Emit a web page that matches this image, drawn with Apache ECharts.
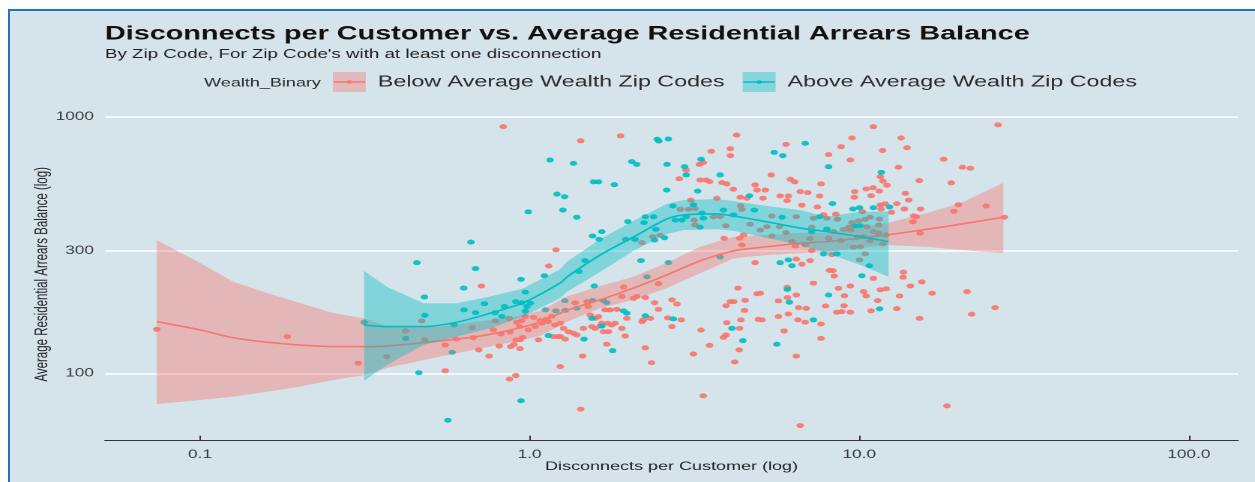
<!DOCTYPE html>
<html>
<head>
<meta charset="utf-8">
<script src="https://cdn.jsdelivr.net/npm/echarts@6/dist/echarts.min.js"></script>
<style>
html,body{margin:0;padding:0;background:#ffffff;width:1255px;height:482px;overflow:hidden;}
#frame{position:absolute;left:8px;top:9px;width:1247px;height:473px;box-sizing:border-box;border-left:2px solid #1b74c8;border-top:2px solid #1b74c8;background:#d5e3ea;}
#chart{position:absolute;left:0;top:0;width:837px;height:482px;transform:scaleX(1.4994);transform-origin:0 0;}
</style>
</head>
<body>
<div id="frame"></div>
<div id="chart"></div>
<script>
// ---------- DATA (log10 of Disconnects per Customer, log10 of Avg Residential Arrears Balance) ----------
const seriesNames = ['Below Average Wealth Zip Codes', 'Above Average Wealth Zip Codes'];

const belowLogPoints = [
[-1.131,2.171],[-0.735,2.143],[-0.520,2.039],[-0.433,2.065],[-0.377,2.165],[-0.327,2.204],[-0.318,2.130],
[-0.174,2.178],[-0.104,2.204],[-0.062,2.214],[-0.039,2.199],[-0.024,2.205],[-0.013,2.221],[0.012,2.218],
[0.032,2.205],[0.050,2.210],[0.067,2.221],[0.037,2.195],[0.057,2.201],[0.077,2.188],[-0.223,2.133],
[-0.171,2.139],[-0.110,2.169],[-0.059,2.160],[-0.031,2.182],[-0.004,2.169],[0.017,2.182],[-0.021,2.140],
[-0.029,2.130],[-0.041,2.130],[0.027,2.130],[0.072,2.143],[0.087,2.143],[-0.256,2.110],[-0.092,2.106],
[-0.057,2.104],[-0.047,2.112],[-0.029,2.096],[-0.154,2.091],[-0.123,2.067],[-0.256,2.010],[-0.042,1.991],
[-0.061,1.977],[0.093,2.026],[-0.080,2.961],[0.080,2.481],[0.058,2.418],[-0.146,2.340],[-0.087,2.153],
[0.155,2.906],[0.276,2.925],[0.628,2.928],[0.609,2.875],[0.551,2.865],[0.609,2.848],[0.515,2.814],
[0.527,2.821],[0.475,2.792],[0.454,2.758],[0.517,2.753],[0.535,2.753],[0.546,2.747],[0.584,2.743],
[0.598,2.738],[0.618,2.717],[0.684,2.734],[0.690,2.714],[0.489,2.675],[0.568,2.682],[0.639,2.686],
[0.659,2.682],[0.457,2.639],[0.482,2.639],[0.502,2.641],[0.640,2.653],[0.644,2.639],[0.558,2.610],
[0.578,2.610],[0.499,2.597],[0.502,2.578],[0.595,2.575],[0.669,2.581],[0.396,2.538],[0.374,2.532],
[0.341,2.509],[0.649,2.539],[0.644,2.500],[0.637,2.526],[0.590,2.526],[0.684,2.431],[0.391,2.349],
[0.285,2.336],[0.632,2.332],[0.690,2.310],[0.280,2.299],[0.315,2.292],[0.325,2.299],[0.351,2.295],
[0.138,2.275],[0.174,2.279],[0.379,2.275],[0.432,2.286],[0.447,2.270],[0.609,2.279],[0.619,2.279],
[0.596,2.263],[0.654,2.284],[0.178,2.260],[0.229,2.247],[0.244,2.247],[0.265,2.249],[0.391,2.249],
[0.652,2.245],[0.184,2.227],[0.199,2.214],[0.209,2.221],[0.341,2.201],[0.366,2.214],[0.345,2.208],
[0.295,2.214],[0.419,2.216],[0.460,2.208],[0.598,2.197],[0.641,2.208],[0.694,2.210],[0.219,2.195],
[0.214,2.184],[0.237,2.195],[0.259,2.195],[0.249,2.188],[0.163,2.175],[0.189,2.182],[0.199,2.175],
[0.093,2.195],[0.103,2.175],[0.118,2.162],[0.133,2.156],[0.143,2.149],[0.280,2.175],[0.432,2.182],
[0.520,2.168],[0.637,2.175],[0.224,2.162],[0.239,2.162],[0.093,2.143],[0.108,2.133],[0.290,2.145],
[0.596,2.149],[0.588,2.140],[0.234,2.113],[0.546,2.109],[0.351,2.099],[0.636,2.091],[0.161,2.067],
[0.497,2.075],[0.370,2.041],[0.622,2.044],[0.527,1.912],[0.155,1.860],
[1.043,2.961],[1.421,2.968],[0.978,2.917],[1.127,2.917],[0.778,2.892],[0.945,2.883],[1.145,2.879],
[1.071,2.868],[0.907,2.852],[0.973,2.831],[1.256,2.834],[1.119,2.803],[1.313,2.803],[1.337,2.799],
[0.733,2.773],[1.064,2.766],[1.072,2.749],[1.084,2.733],[0.791,2.756],[0.804,2.746],[0.884,2.738],
[1.182,2.751],[1.279,2.742],[0.715,2.714],[0.821,2.708],[0.844,2.704],[0.986,2.708],[1.021,2.718],
[1.042,2.723],[1.061,2.710],[1.140,2.701],[0.760,2.691],[0.785,2.691],[0.708,2.682],[0.880,2.691],
[0.985,2.686],[1.036,2.692],[1.150,2.675],[0.781,2.673],[0.826,2.655],[0.873,2.648],[1.064,2.656],
[1.079,2.660],[1.114,2.661],[1.010,2.630],[1.066,2.640],[1.098,2.627],[1.137,2.640],[1.186,2.640],
[1.301,2.657],[1.287,2.631],[1.385,2.652],[0.929,2.620],[0.892,2.618],[0.735,2.613],[0.809,2.610],
[0.861,2.604],[0.902,2.604],[0.934,2.600],[0.978,2.587],[0.998,2.594],[1.018,2.600],[1.033,2.608],
[1.061,2.601],[1.165,2.613],[1.173,2.610],[1.163,2.590],[1.440,2.608],[0.720,2.571],[0.758,2.571],
[0.856,2.569],[0.968,2.569],[0.983,2.574],[1.023,2.571],[1.059,2.578],[0.700,2.558],[0.778,2.548],
[0.922,2.552],[0.952,2.561],[0.973,2.558],[1.043,2.552],[1.059,2.546],[1.082,2.539],[1.185,2.546],
[0.735,2.535],[0.851,2.525],[0.907,2.526],[0.945,2.517],[0.995,2.530],[1.013,2.532],[1.033,2.516],
[1.072,2.504],[0.796,2.513],[0.806,2.496],[0.836,2.500],[0.983,2.491],[1.003,2.493],[1.018,2.465],
[0.856,2.478],[0.917,2.462],[0.809,2.445],[0.851,2.439],[0.826,2.425],[1.001,2.442],[0.910,2.401],
[0.920,2.400],[1.134,2.394],[1.133,2.374],[0.924,2.379],[1.043,2.370],[1.190,2.356],[1.155,2.340],
[0.861,2.351],[0.973,2.340],[0.937,2.331],[0.782,2.335],[1.013,2.318],[1.021,2.301],[1.064,2.325],
[1.082,2.329],[1.221,2.312],[1.327,2.318],[0.700,2.312],[0.809,2.305],[0.955,2.302],[1.122,2.301],
[0.782,2.295],[0.755,2.282],[1.056,2.283],[0.816,2.256],[0.839,2.253],[0.898,2.262],[0.954,2.263],
[1.114,2.252],[1.036,2.243],[0.932,2.238],[0.947,2.240],[0.973,2.238],[1.412,2.256],[1.341,2.230],
[1.183,2.214],[0.755,2.221],[0.785,2.231],[0.705,2.208],[0.814,2.208],[0.836,2.199],[0.884,2.192],
[0.772,2.165],[0.884,2.136],[0.809,2.067],[1.266,1.873],[0.821,1.796]
];

const aboveLogPoints = [
[-0.502,2.199],[-0.376,2.136],[-0.342,2.431],[-0.336,2.002],[0.062,2.831],[0.083,2.698],[0.106,2.688],
[0.101,2.636],[-0.004,2.629],[-0.178,2.511],[-0.164,2.408],[0.045,2.380],[-0.026,2.366],[-0.200,2.332],
[-0.013,2.316],[-0.319,2.297],[-0.137,2.271],[-0.076,2.260],[-0.042,2.279],[-0.024,2.275],[0.002,2.273],
[-0.008,2.260],[-0.199,2.247],[-0.164,2.236],[-0.105,2.236],[-0.013,2.242],[-0.318,2.226],[-0.084,2.221],
[0.048,2.247],[0.080,2.243],[0.108,2.245],[0.143,2.254],[-0.229,2.188],[-0.235,2.082],[0.057,2.147],
[-0.026,1.893],[-0.248,1.817],[0.165,2.133],[0.189,2.214],[0.219,2.184],[0.285,2.243],[0.295,2.234],
[0.252,2.088],[0.107,2.283],[0.191,2.283],[0.224,2.283],[0.234,2.275],
[0.387,2.912],[0.392,2.905],[0.421,2.913],[0.133,2.818],[0.310,2.825],[0.325,2.814],[0.417,2.814],
[0.470,2.805],[0.520,2.834],[0.475,2.773],[0.578,2.773],[0.194,2.746],[0.209,2.746],[0.257,2.735],
[0.416,2.714],[0.510,2.710],[0.667,2.692],[0.143,2.608],[0.435,2.652],[0.497,2.656],[0.682,2.636],
[0.351,2.610],[0.376,2.610],[0.298,2.591],[0.442,2.597],[0.462,2.597],[0.475,2.610],[0.523,2.624],
[0.527,2.604],[0.588,2.636],[0.619,2.617],[0.517,2.569],[0.347,2.587],[0.383,2.561],[0.219,2.552],
[0.191,2.535],[0.211,2.522],[0.292,2.522],[0.320,2.522],[0.379,2.519],[0.409,2.528],[0.338,2.439],
[0.421,2.431],[0.578,2.453],[0.168,2.439],[0.150,2.396],[0.356,2.376],[0.196,2.340],[0.351,2.224],
[0.436,2.212],[0.614,2.175],[0.647,2.127],
[0.836,2.896],[0.742,2.861],[0.768,2.848],[0.907,2.805],[1.067,2.783],[0.919,2.661],[0.981,2.640],
[1.001,2.645],[1.043,2.645],[1.092,2.648],[0.766,2.608],[0.880,2.610],[0.902,2.562],[0.990,2.574],
[1.003,2.575],[0.856,2.551],[0.892,2.465],[0.932,2.465],[0.785,2.442],[0.760,2.431],[0.796,2.419],
[1.031,2.419],[1.008,2.380],[0.782,2.327],[0.907,2.305],[0.788,2.277],[1.062,2.251],[0.861,2.208],
[0.750,2.113]
];

// Loess fits with confidence bands (log10 units)
const belowFitX   = [-1.131,-1.000,-0.900,-0.797,-0.697,-0.596,-0.502,-0.433,-0.272,-0.171,-0.069,0.032,0.113,0.214,0.315,0.416,0.517,0.619,0.720,0.821,0.902,1.084,1.205,1.307,1.437];
const belowFit    = [2.201,2.169,2.139,2.121,2.110,2.104,2.104,2.106,2.126,2.141,2.165,2.200,2.245,2.286,2.332,2.383,2.438,2.477,2.493,2.507,2.513,2.539,2.561,2.581,2.608];
const belowLower  = [1.880,1.896,1.909,1.928,1.948,1.974,1.993,2.021,2.065,2.091,2.117,2.145,2.201,2.254,2.286,2.332,2.390,2.448,2.461,2.468,2.474,2.500,2.493,2.481,2.468];
const belowUpper  = [2.519,2.430,2.357,2.313,2.274,2.235,2.214,2.182,2.182,2.200,2.214,2.243,2.299,2.340,2.376,2.430,2.493,2.532,2.539,2.546,2.547,2.585,2.624,2.663,2.742];

const aboveFitX   = [-0.502,-0.433,-0.322,-0.221,-0.120,-0.019,0.093,0.113,0.214,0.315,0.416,0.467,0.568,0.619,0.720,0.821,0.902,1.003,1.089];
const aboveFit    = [2.188,2.182,2.182,2.199,2.234,2.275,2.352,2.375,2.461,2.531,2.601,2.617,2.621,2.613,2.590,2.566,2.552,2.532,2.513];
const aboveLower  = [1.971,2.032,2.110,2.143,2.175,2.221,2.293,2.317,2.395,2.477,2.543,2.558,2.562,2.555,2.527,2.500,2.468,2.422,2.376];
const aboveUpper  = [2.399,2.337,2.273,2.273,2.299,2.331,2.406,2.434,2.523,2.594,2.660,2.675,2.679,2.671,2.652,2.636,2.610,2.630,2.630];

// Axis ticks (raw units) and limits
const xTickValues = [0.1, 1, 10, 100];
const xTickLabels = ['0.1', '1.0', '10.0', '100.0'];
const yTickValues = [100, 300, 1000];
const yTickLabels = ['100', '300', '1000'];
const xLimits = [0.0515, 141];
const yLimits = [54.6, 1081];

// ---------- CHART ----------
const RED = '#F8766D', TEAL = '#00BFC4';
const RED_FILL = 'rgba(248,118,109,0.4)', TEAL_FILL = 'rgba(0,191,196,0.4)';
const FONT = 'Liberation Sans, Arial, Helvetica, sans-serif';

function tickFormatter(vals, labels) {
  return function (v) {
    for (let i = 0; i < vals.length; i++) {
      if (Math.abs(Math.log10(vals[i]) - v) < 1e-6) return labels[i];
    }
    return '';
  };
}

function bandSeries(name, xs, lo, hi, fill, z) {
  return {
    type: 'custom', name: name, z: z, silent: true, clip: true,
    data: xs.map((x, i) => [x, lo[i], hi[i]]),
    encode: { x: 0, y: [1, 2] },
    renderItem: function (params, api) {
      if (params.dataIndex !== 0) return null;
      const pts = [];
      for (let i = 0; i < xs.length; i++) pts.push(api.coord([xs[i], hi[i]]));
      for (let i = xs.length - 1; i >= 0; i--) pts.push(api.coord([xs[i], lo[i]]));
      return { type: 'polygon', shape: { points: pts }, style: { fill: fill } };
    }
  };
}

function fitSeries(name, xs, ys, color, z) {
  return {
    type: 'line', name: name, z: z, silent: true,
    data: xs.map((x, i) => [x, ys[i]]),
    symbol: 'none', showSymbol: false, smooth: 0.3,
    lineStyle: { color: color, width: 1.6 }
  };
}

const chart = echarts.init(document.getElementById('chart'), null, { renderer: 'canvas', devicePixelRatio: 2 });

const option = {
  animation: false,
  backgroundColor: 'transparent',
  textStyle: { fontFamily: FONT },
  title: [
    { text: 'Disconnects per Customer vs. Average Residential Arrears Balance', left: 70, top: 24, padding: 0,
      textStyle: { fontFamily: FONT, fontSize: 19.2, fontWeight: 'bold', color: '#111', lineHeight: 20 } },
    { text: "By Zip Code, For Zip Code's with at least one disconnection", left: 70, top: 48, padding: 0,
      textStyle: { fontFamily: FONT, fontSize: 12.5, fontWeight: 'normal', color: '#222', lineHeight: 13 } }
  ],
  legend: [
    { data: [{ name: seriesNames[0], itemStyle: { color: RED_FILL, borderWidth: 0 } }],
      left: 222, top: 72, padding: 0, itemWidth: 22, itemHeight: 20, icon: 'rect', selectedMode: false,
      textStyle: { fontFamily: FONT, fontSize: 15.5, color: '#2b2b2b', padding: [0, 0, 0, 3] } },
    { data: [{ name: seriesNames[1], itemStyle: { color: TEAL_FILL, borderWidth: 0 } }],
      left: 495.3, top: 72, padding: 0, itemWidth: 22, itemHeight: 20, icon: 'rect', selectedMode: false,
      textStyle: { fontFamily: FONT, fontSize: 15.5, color: '#2b2b2b', padding: [0, 0, 0, 3] } }
  ],
  graphic: [
    { type: 'text', z: 100, x: 214, y: 83,
      style: { text: 'Wealth_Binary', fontFamily: FONT, fontSize: 12, fill: '#2b2b2b', align: 'right', verticalAlign: 'middle' } },
    { type: 'line', z: 100, shape: { x1: 222.5, y1: 82, x2: 243.5, y2: 82 }, style: { stroke: RED, lineWidth: 1.4 } },
    { type: 'circle', z: 100, shape: { cx: 233, cy: 82, r: 1.8 }, style: { fill: RED } },
    { type: 'line', z: 100, shape: { x1: 495.8, y1: 82, x2: 516.8, y2: 82 }, style: { stroke: TEAL, lineWidth: 1.4 } },
    { type: 'circle', z: 100, shape: { cx: 506.3, cy: 82, r: 1.8 }, style: { fill: TEAL } }
  ],
  grid: { left: 70, right: 11.3, top: 108, bottom: 41.3, containLabel: false, outerBoundsMode: 'none' },
  xAxis: {
    type: 'value',
    min: Math.log10(xLimits[0]), max: Math.log10(xLimits[1]),
    name: 'Disconnects per Customer (log)', nameLocation: 'middle', nameGap: 20, nameMoveOverlap: false,
    nameTextStyle: { fontFamily: FONT, fontSize: 12, color: '#222' },
    axisLine: { show: true, onZero: false, lineStyle: { color: '#333', width: 1 } },
    axisTick: { show: true, inside: true, length: 5, lineStyle: { color: '#333', width: 1 },
      customValues: xTickValues.map(Math.log10) },
    axisLabel: { show: true, margin: 8, fontFamily: FONT, fontSize: 11.5, color: '#3a3a3a',
      customValues: xTickValues.map(Math.log10), formatter: tickFormatter(xTickValues, xTickLabels) },
    splitLine: { show: false }
  },
  yAxis: {
    type: 'value',
    min: Math.log10(yLimits[0]), max: Math.log10(yLimits[1]),
    name: 'Average Residential Arrears Balance (log)', nameLocation: 'middle', nameGap: 35.5, nameMoveOverlap: false,
    nameTextStyle: { fontFamily: FONT, fontSize: 11.5, color: '#222' },
    axisLine: { show: false, onZero: false },
    axisTick: { show: false, customValues: yTickValues.map(Math.log10) },
    axisLabel: { show: true, margin: 7.3, fontFamily: FONT, fontSize: 11.5, color: '#3a3a3a',
      customValues: yTickValues.map(Math.log10), formatter: tickFormatter(yTickValues, yTickLabels) },
    splitLine: { show: true, lineStyle: { color: '#ffffff', width: 1.6 } }
  },
  series: [
    { type: 'scatter', name: seriesNames[0], z: 2, silent: true, data: belowLogPoints,
      symbol: 'circle', symbolSize: 5, itemStyle: { color: RED, opacity: 0.92 } },
    { type: 'scatter', name: seriesNames[1], z: 2, silent: true, data: aboveLogPoints,
      symbol: 'circle', symbolSize: 5, itemStyle: { color: TEAL, opacity: 0.92 } },
    bandSeries('belowBand', belowFitX, belowLower, belowUpper, RED_FILL, 3),
    fitSeries('belowFit', belowFitX, belowFit, RED, 4),
    bandSeries('aboveBand', aboveFitX, aboveLower, aboveUpper, TEAL_FILL, 5),
    fitSeries('aboveFit', aboveFitX, aboveFit, TEAL, 6)
  ]
};
chart.setOption(option);
</script>
</body>
</html>
